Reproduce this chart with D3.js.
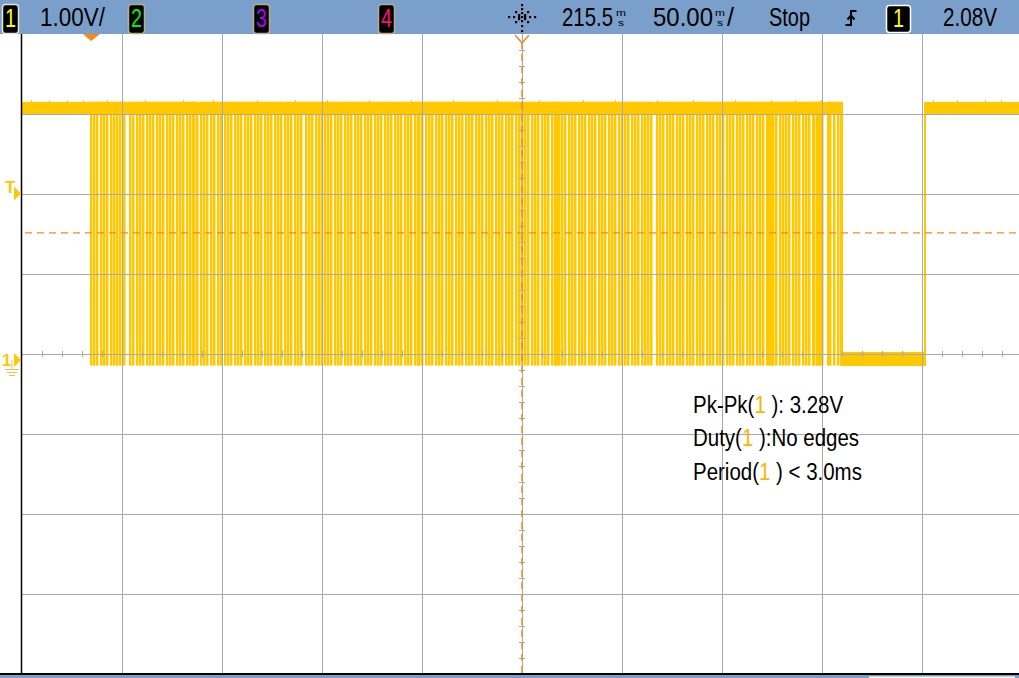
<!DOCTYPE html>
<html><head><meta charset="utf-8">
<script src="https://cdn.jsdelivr.net/npm/d3@7"></script>
<style>body{margin:0;background:#fff;overflow:hidden} svg{display:block}</style>
</head><body>
<svg id="c" width="1019" height="678"></svg>
<script>
// ---------- data ----------
const timePerDivMs = 50;
const delayMs = 215.5;
const voltsPerDiv = 1.0;
const centerV = 0.075;
const triggerLevelV = 2.08;
const thresholdV = 1.59;
const highBandV = [3.08, 3.23];
const lowBandV = [-0.07, 0.10];
const pulseLowV = -0.07;
const pulseWidthMs = 1.25;
const segStartMs = [-34.5, 375.5, 417.0];
const segEndMs = [375.5, 417.0, 465.5];
const segLevel = ["high", "low", "high"];
const edgeTimesMs = [375.5, 417.0];
const pulseTimesMs = [
  -0.5, 1, 2.5, 4.5, 6, 7.5, 9.5, 11, 12.5, 14,
  16, 19, 20.5, 22.5, 24, 25.5, 27.5, 29, 30.5, 32.5, 34, 35.5, 37.5, 39, 40.5, 42.5, 44, 45.5, 47.5, 49, 50.5, 51, 52.5, 54.5, 56, 57.5, 59.5, 61, 63, 64.5,
  66.5, 68, 69.5, 71.5, 73, 74.5, 76.5, 78, 79.5, 81.5, 83, 84.5, 86.5, 88, 89.5, 91.5, 93, 94.5, 96.5, 98, 99.5, 101.5, 103, 104.5, 107, 108.5, 110, 112, 113.5, 115,
  116.5, 118, 119.5, 121.5, 123, 124.5, 126.5, 128, 129.5, 131.5, 133, 134.5, 136.5, 138, 139.5, 141.5, 143, 144.5, 146.5, 148, 149.5, 151.5, 153, 154.5, 156.5, 158, 159.5, 161.5, 163, 163.5, 165,
  167, 168.5, 170, 172, 173.5, 175, 177, 178.5, 180, 182, 183.5, 185, 187, 188.5, 190, 192, 193.5, 195, 197, 198.5, 200, 202, 203.5, 205, 207, 208.5, 210, 212, 213.5, 215,
  216.5, 218, 220, 221.5, 223, 225, 226.5, 228, 230, 231.5, 232.5, 233.5, 235, 236.5, 238.5, 240, 241.5, 243.5, 245, 246.5, 248.5, 250, 251.5, 253.5, 255, 256.5, 258.5, 260, 261.5, 263.5, 265,
  266.5, 268, 270, 271.5, 273, 275, 276.5, 278, 279.5, 282.5, 284, 285.5, 287.5, 289, 290.5, 292.5, 294, 295.5, 297.5, 299, 300.5, 302.5, 304, 305.5, 307.5, 309, 310.5, 312.5, 314,
  315.5, 317.5, 319, 320.5, 322.5, 324, 325.5, 327.5, 329, 330.5, 332.5, 334, 335.5, 337.5, 338.5, 339.5, 340.5, 342, 344, 345.5, 347, 348.5, 350.5, 352, 353.5, 355.5, 357, 358.5, 360.5, 361, 362.5, 363.5, 364, 365,
  368, 369, 371, 373, 374.5
];
const highSpikeMs = [-30, -21, -12, -4, 8, 27, 46, 61, 83, 102, 118, 139, 160, 181, 203, 224, 246, 262, 283, 301, 322, 340, 352, 365, 421, 433, 447, 455];
const chanDigits = ["1", "2", "3", "4"];
const chanColors = ["#ffff00", "#00ee00", "#b000ff", "#ff1070"];
const scaleLabel = "1.00V/";
const delayLabel = "215.5";
const timebaseLabel = "50.00";
const runLabel = "Stop";
const trigSource = "1";
const trigLevelLabel = "2.08V";
const measNames = ["Pk-Pk(", "Duty(", "Period("];
const measValues = [" ): 3.28V", " ):No edges", " ) < 3.0ms"];

// ---------- drawing ----------
const W = 1019, H = 678;
const L = 22, R = 1022, T = 34, B = 674;
const trace = "#ffc800", orange = "#f5891e", grid = "#a9a9a9", barBlue = "#7b9fcb";
const FONT = "Liberation Sans, Arial, sans-serif";
const svg = d3.select("#c");
svg.append("rect").attr("width", W).attr("height", H).attr("fill", "#fff");

const x = d3.scaleLinear().domain([delayMs - 5 * timePerDivMs, delayMs + 5 * timePerDivMs]).range([L, R]);
const y = d3.scaleLinear().domain([centerV - 4 * voltsPerDiv, centerV + 4 * voltsPerDiv]).range([B, T]);

// trace
const tg = svg.append("g").attr("fill", trace);
tg.selectAll("rect.seg").data(segStartMs.map((s, i) => ({s, e: segEndMs[i], lv: segLevel[i]})))
  .join("rect").attr("shape-rendering", "crispEdges")
  .attr("x", d => x(d.s)).attr("width", d => x(d.e) - x(d.s))
  .attr("y", d => y((d.lv === "high" ? highBandV : lowBandV)[1]))
  .attr("height", d => { const b = d.lv === "high" ? highBandV : lowBandV; return y(b[0]) - y(b[1]); });
tg.selectAll("rect.sp").data(highSpikeMs).join("rect").attr("shape-rendering", "crispEdges")
  .attr("x", d => x(d)).attr("width", 1.2)
  .attr("y", y(3.25)).attr("height", y(highBandV[1]) - y(3.25));
tg.selectAll("rect.pl").data(pulseTimesMs).join("rect")
  .attr("x", d => x(d)).attr("width", d => x(d + pulseWidthMs) - x(d))
  .attr("y", y(highBandV[1])).attr("height", y(pulseLowV) - y(highBandV[1]));
tg.selectAll("rect.ed").data(edgeTimesMs).join("rect").attr("shape-rendering", "crispEdges")
  .attr("x", d => x(d) - 1).attr("width", 2)
  .attr("y", y(highBandV[1])).attr("height", y(lowBandV[0]) - y(highBandV[1]));

// grid via axes
const gx = svg.append("g").attr("transform", `translate(0,${T})`)
  .call(d3.axisBottom(x).tickValues(d3.range(1, 10).map(i => delayMs + (i - 5) * timePerDivMs)).tickSize(B - T).tickFormat(""));
const gy = svg.append("g").attr("transform", `translate(${L},0)`)
  .call(d3.axisRight(y).tickValues(d3.range(1, 8).map(i => centerV + (i - 4) * voltsPerDiv)).tickSize(R - L).tickFormat(""));
[gx, gy].forEach(g => { g.select(".domain").remove(); g.selectAll("line").attr("stroke", grid).attr("shape-rendering", "crispEdges"); });

// minor ticks on center lines
const cx = x(delayMs), cy = y(centerV);
svg.append("g").attr("stroke", grid).attr("shape-rendering", "crispEdges")
  .selectAll("line").data(d3.range(1, 50)).join("line")
  .attr("x1", i => x(delayMs - 5 * timePerDivMs + i * timePerDivMs / 5)).attr("x2", i => x(delayMs - 5 * timePerDivMs + i * timePerDivMs / 5))
  .attr("y1", cy - 3).attr("y2", cy + 3);
svg.append("g").attr("stroke", grid).attr("shape-rendering", "crispEdges")
  .selectAll("line").data(d3.range(1, 40)).join("line")
  .attr("y1", i => y(centerV - 4 * voltsPerDiv + i * voltsPerDiv / 5)).attr("y2", i => y(centerV - 4 * voltsPerDiv + i * voltsPerDiv / 5))
  .attr("x1", cx - 3).attr("x2", cx + 3);

// dashed orange markers
svg.append("line").attr("x1", cx).attr("x2", cx).attr("y1", T + 8).attr("y2", B)
  .attr("stroke", orange).attr("stroke-width", 1.5).attr("stroke-dasharray", "7,5");
svg.append("line").attr("x1", L + 3).attr("x2", W).attr("y1", y(thresholdV)).attr("y2", y(thresholdV))
  .attr("stroke", orange).attr("stroke-width", 1.3).attr("stroke-dasharray", "7,5");
svg.append("path").attr("d", `M${cx - 7},${T + 1} L${cx},${T + 9} L${cx + 7},${T + 1}`)
  .attr("fill", "none").attr("stroke", orange).attr("stroke-width", 1.5);
// trigger point triangle (t = 0)
svg.append("path").attr("d", `M${x(0) - 8},${T} L${x(0) + 9},${T} L${x(0)},${T + 7} Z`).attr("fill", orange);

// left border & bottom
svg.append("line").attr("x1", 21.5).attr("x2", 21.5).attr("y1", T).attr("y2", B).attr("stroke", "#000").attr("stroke-width", 1.5);
svg.append("rect").attr("x", 0).attr("y", B - 1).attr("width", W).attr("height", 2).attr("fill", "#000");
svg.append("rect").attr("x", 0).attr("y", B + 1).attr("width", W).attr("height", H - B - 1).attr("fill", barBlue);
svg.append("rect").attr("x", 869).attr("y", B + 2.5).attr("width", 146).attr("height", 3).attr("fill", "#fff");

// left markers
const ty = y(triggerLevelV), gy0 = y(0);
svg.append("text").attr("x", 5).attr("y", ty - 1).attr("font-family", FONT).attr("font-weight", "bold")
  .attr("font-size", 17).attr("fill", trace).text("T");
svg.append("path").attr("d", `M14,${ty - 7} L21,${ty} L14,${ty + 7} Z`).attr("fill", trace);
svg.append("text").attr("x", 2).attr("y", gy0 + 6).attr("font-family", FONT).attr("font-weight", "bold")
  .attr("font-size", 17).attr("fill", trace).text("1");
svg.append("path").attr("d", `M14,${gy0 - 7} L21,${gy0} L14,${gy0 + 7} Z`).attr("fill", trace);
svg.append("path").attr("d", `M12,${gy0} V${gy0 + 9} M5,${gy0 + 9.5} H19 M7,${gy0 + 12.5} H17 M9,${gy0 + 15.5} H15`)
  .attr("stroke", "#e8c050").attr("stroke-width", 1).attr("fill", "none");

// ---------- top bar ----------
svg.append("rect").attr("width", W).attr("height", T).attr("fill", barBlue);
// text squeezed to a target width with a transform (so its box is the real drawn box)
function txt(xp, yp, s, size, len, color) {
  const g = svg.append("g");
  const t = g.append("text").attr("x", 0).attr("y", 0).attr("font-family", FONT)
    .attr("font-size", size).attr("fill", color || "#000").text(s);
  const k = len ? len / t.node().getComputedTextLength() : 1;
  g.attr("transform", `translate(${xp},${yp}) scale(${k},1)`);
  return t;
}
function unit(xp) {   // stacked "m" over "s"
  txt(xp, 16, "m", 8.5, 10);
  txt(xp + 2, 25.5, "s", 8.5, 6);
}
function box(x0, x1, digit, color, border) {
  svg.append("rect").attr("x", x0 + 0.5).attr("y", 4.5).attr("width", x1 - x0 - 1).attr("height", 29).attr("rx", 3)
    .attr("fill", "#000").attr("stroke", border).attr("stroke-width", 1.5);
  txt((x0 + x1) / 2 - 5.5, 26.5, digit, 26, 11, color);
}
const boxX = [[2, 19], [128, 145], [253, 270], [378, 395]];
chanDigits.forEach((d, i) => box(boxX[i][0], boxX[i][1], d, chanColors[i], i === 0 ? "#e8e4d0" : "#b8ad88"));
txt(40, 26, scaleLabel, 25, 65);

// trigger icon
const dots = [[0, -12], [0, -8], [0, -4], [0, 4], [0, 9], [0, 14], [-13, 0], [-8, 0], [8, 0], [13, 0],
  [-6, -5], [6, -5], [-6, 5], [6, 5], [-3, 0], [3, 0], [0, 0], [-3, -2], [3, 2], [-3, 2], [3, -2]];
svg.append("g").selectAll("rect").data(dots).join("rect")
  .attr("x", d => 521 + d[0]).attr("y", d => 16 + d[1]).attr("width", 2.2).attr("height", 2.2).attr("fill", "#000");

txt(562, 26, delayLabel, 25, 51);
unit(616);
txt(653, 26, timebaseLabel, 25, 60);
unit(715);
txt(727, 26, "/", 25);
txt(769, 26, runLabel, 25, 41);
svg.append("path").attr("d", "M845.5,25 H851 V11 H856.5 M847.5,19.5 L851,15.5 L854.5,19.5")
  .attr("fill", "none").attr("stroke", "#000").attr("stroke-width", 2);
svg.append("rect").attr("x", 886.5).attr("y", 5.5).attr("width", 24).attr("height", 27).attr("rx", 3)
  .attr("fill", "#000").attr("stroke", "#fff").attr("stroke-width", 1.5);
txt(893, 26.5, trigSource, 26, 11, "#ffff00");
txt(943, 26, trigLevelLabel, 25, 54);

// ---------- measurements (condensed via horizontal scale, pieces laid side by side) ----------
const measY = [413, 446, 480];
const squeeze = 0.89;
measNames.forEach((n, i) => {
  const g = svg.append("g").attr("transform", `translate(693,${measY[i]}) scale(${squeeze},1)`);
  let cursor = 0;
  [[n, "#000"], ["1", "#ffb400"], [measValues[i], "#000"]].forEach(([s, c]) => {
    const t = g.append("text").attr("x", cursor).attr("y", 0).attr("font-family", FONT)
      .attr("font-size", 23).attr("fill", c).style("white-space", "pre").text(s);
    cursor += t.node().getComputedTextLength();
  });
});
</script>
</body></html>
